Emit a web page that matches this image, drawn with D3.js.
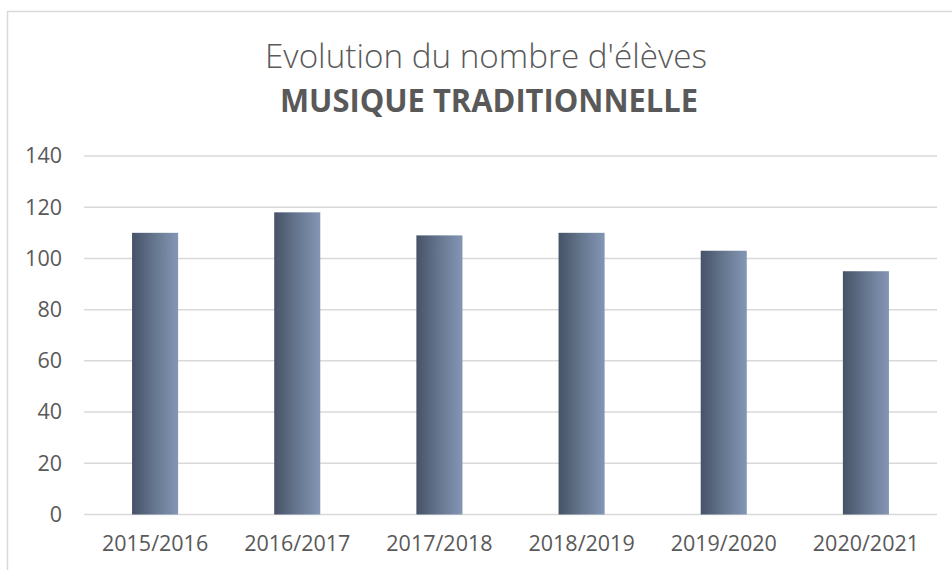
<!DOCTYPE html>
<html>
<head>
<meta charset="utf-8">
<script src="https://cdn.jsdelivr.net/npm/d3@7"></script>
<style>
  html, body { margin: 0; padding: 0; background: #fff; overflow: hidden; }
  svg { display: block; font-family: "Open Sans", sans-serif; }
</style>
</head>
<body>
<svg id="chart" width="952" height="570"></svg>
<script>
// Data
const seasons = ['2015/2016', '2016/2017', '2017/2018', '2018/2019', '2019/2020', '2020/2021'];
const students = [110, 118, 109, 110, 103, 95];
const yTicks = [0, 20, 40, 60, 80, 100, 120, 140];
const titleLine1 = "Evolution du nombre d'élèves";
const titleLine2 = 'MUSIQUE TRADITIONNELLE';

const svg = d3.select('#chart');
const W = 952, H = 570;
const margin = { top: 156, right: 15, bottom: 55.5, left: 84 };

// chart frame (cut off on the right and bottom like the screenshot)
svg.append('rect')
    .attr('x', 7.5).attr('y', 11.5)
    .attr('width', W + 20).attr('height', H + 20)
    .attr('fill', 'none')
    .attr('stroke', '#d9d9d9')
    .attr('stroke-width', 1.5);

const defs = svg.append('defs');
const grad = defs.append('linearGradient')
    .attr('id', 'barGrad')
    .attr('x1', '0%').attr('x2', '100%')
    .attr('y1', '0%').attr('y2', '0%');
grad.append('stop').attr('offset', '0%').attr('stop-color', '#465267');
grad.append('stop').attr('offset', '50%').attr('stop-color', '#66778f');
grad.append('stop').attr('offset', '100%').attr('stop-color', '#8396b4');

const x = d3.scaleBand()
    .domain(seasons)
    .range([margin.left, W - margin.right])
    .paddingInner(0.676)
    .paddingOuter(0.338);

const y = d3.scaleLinear()
    .domain([0, 140])
    .range([H - margin.bottom, margin.top]);

// gridlines
svg.append('g')
    .selectAll('line')
    .data(yTicks)
    .join('line')
    .attr('x1', margin.left)
    .attr('x2', W - margin.right)
    .attr('y1', d => y(d))
    .attr('y2', d => y(d))
    .attr('stroke', '#d9d9d9')
    .attr('stroke-width', 1.5);

// bars
svg.append('g')
    .selectAll('rect')
    .data(students)
    .join('rect')
    .attr('x', (d, i) => x(seasons[i]))
    .attr('width', x.bandwidth())
    .attr('y', d => y(d))
    .attr('height', d => y(0) - y(d))
    .attr('fill', 'url(#barGrad)');

// y axis labels
const yAxis = svg.append('g')
    .attr('transform', `translate(${margin.left - 22},0)`)
    .call(d3.axisLeft(y).tickValues(yTicks).tickSize(0).tickPadding(0));
yAxis.select('.domain').remove();
yAxis.selectAll('text')
    .attr('fill', '#595959')
    .style('font-size', '21.5px')
    .style('font-family', '"Open Sans", sans-serif');

// x axis labels
const xAxis = svg.append('g')
    .attr('transform', `translate(0,${y(0)})`)
    .call(d3.axisBottom(x).tickSize(0).tickPadding(21));
xAxis.select('.domain').remove();
xAxis.selectAll('text')
    .attr('fill', '#595959')
    .style('font-size', '21.5px')
    .style('font-family', '"Open Sans", sans-serif');

// title
svg.append('text')
    .attr('x', 486).attr('y', 68)
    .attr('text-anchor', 'middle')
    .attr('fill', '#595959')
    .style('font-size', '32.5px')
    .style('font-weight', 300)
    .attr('textLength', 442)
    .attr('lengthAdjust', 'spacingAndGlyphs')
    .text(titleLine1);

svg.append('text')
    .attr('x', 489).attr('y', 112)
    .attr('text-anchor', 'middle')
    .attr('fill', '#595959')
    .style('font-size', '33px')
    .style('font-weight', 700)
    .attr('textLength', 418)
    .attr('lengthAdjust', 'spacingAndGlyphs')
    .text(titleLine2);
</script>
</body>
</html>
